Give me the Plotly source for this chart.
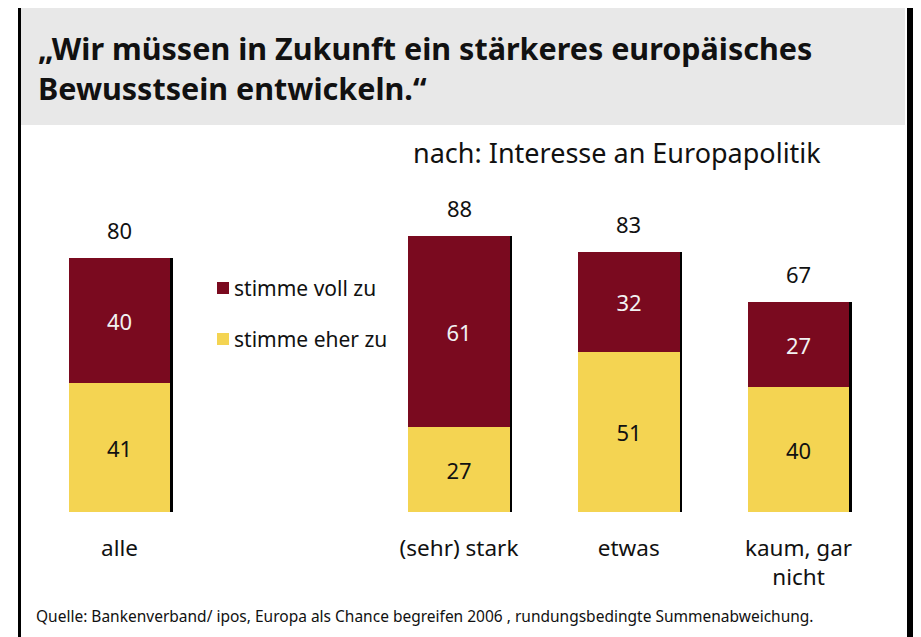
import plotly.graph_objects as go

# Seite hat 8px Rand, Figur daher etwas kleiner
RAND = 8
W, H = 921 - RAND, 637 - RAND

# Daten
kategorien = ["alle", "(sehr) stark", "etwas", "kaum, gar<br>nicht"]
positionen = [0, 2, 3, 4]
stimme_eher_zu = [41, 27, 51, 40]
stimme_voll_zu = [40, 61, 32, 27]
gesamt = [80, 88, 83, 67]

ROT = "#7a0a1f"
GELB = "#f4d452"
FONT = "Noto Sans"


def px(x):
    return (x - RAND) / W


def py(y):
    return 1 - (y - RAND) / H


summen = [a + b for a, b in zip(stimme_eher_zu, stimme_voll_zu)]

fig = go.Figure()

# Schatten hinter den Balken
fig.add_trace(go.Bar(
    x=[p + 0.013 for p in positionen], y=[s + 0.6 for s in summen], base=-0.6,
    width=0.6, marker=dict(color="black", line=dict(width=0)),
    hoverinfo="skip", showlegend=False,
))
fig.add_trace(go.Bar(
    x=positionen, y=stimme_eher_zu, width=0.6, name="stimme eher zu",
    marker=dict(color=GELB, line=dict(width=0)),
    text=stimme_eher_zu, textposition="inside", insidetextanchor="middle",
    textangle=0, textfont=dict(size=22, color="#111111", family=FONT),
    showlegend=False,
))
fig.add_trace(go.Bar(
    x=positionen, y=stimme_voll_zu, base=stimme_eher_zu, width=0.6, name="stimme voll zu",
    marker=dict(color=ROT, line=dict(width=0)),
    text=stimme_voll_zu, textposition="inside", insidetextanchor="middle",
    textangle=0, textfont=dict(size=22, color="#f2f2f2", family=FONT),
    showlegend=False,
))

# Gesamtwerte ueber den Balken
for p, s, g in zip(positionen, summen, gesamt):
    fig.add_annotation(x=p, y=s, text=str(g), showarrow=False, yanchor="bottom",
                       yshift=11, font=dict(size=22, color="#111111", family=FONT))

# Rahmen und Titelband (rechter Rand muss sichtbar bleiben)
fig.add_shape(type="rect", xref="paper", yref="paper", x0=px(21), x1=px(905), y0=py(125), y1=py(8),
              fillcolor="#e8e8e8", line=dict(width=0), layer="below")
fig.add_shape(type="rect", xref="paper", yref="paper", x0=px(18), x1=px(21), y0=-0.05, y1=1,
              fillcolor="black", line=dict(width=0))
fig.add_shape(type="rect", xref="paper", yref="paper", x0=px(907), x1=px(913), y0=-0.05, y1=1,
              fillcolor="black", line=dict(width=0))

fig.add_annotation(xref="paper", yref="paper", x=px(36), y=py(68), xanchor="left", yanchor="middle",
                   align="left", showarrow=False,
                   text="<b>„Wir müssen in Zukunft ein stärkeres europäisches<br>Bewusstsein entwickeln.“</b>",
                   font=dict(size=30.5, color="#111111", family=FONT))
fig.add_annotation(xref="paper", yref="paper", x=px(411), y=py(152), xanchor="left", yanchor="middle",
                   showarrow=False, text="nach: Interesse an Europapolitik",
                   font=dict(size=27, color="#111111", family=FONT))
fig.add_annotation(xref="paper", yref="paper", x=px(34), y=py(616), xanchor="left", yanchor="middle",
                   showarrow=False,
                   text="Quelle: Bankenverband/ ipos, Europa als Chance begreifen 2006 , rundungsbedingte Summenabweichung.",
                   font=dict(size=15.5, color="#111111", family=FONT))

# Legende
for farbe, name, y in [(ROT, "stimme voll zu", 288), (GELB, "stimme eher zu", 339)]:
    fig.add_shape(type="rect", xref="paper", yref="paper", x0=px(217), x1=px(229), y0=py(y + 6), y1=py(y - 6),
                  fillcolor=farbe, line=dict(width=0))
    fig.add_annotation(xref="paper", yref="paper", x=px(232), y=py(y), xanchor="left", yanchor="middle",
                       showarrow=False, text=name, font=dict(size=21, color="#111111", family=FONT))

fig.update_layout(
    width=W, height=H,
    margin=dict(l=0, r=0, t=0, b=0),
    paper_bgcolor="white", plot_bgcolor="white",
    barmode="overlay", bargap=0,
    showlegend=False,
    font=dict(family=FONT, color="#111111"),
    uniformtext=dict(minsize=10, mode="show"),
)
fig.update_xaxes(domain=[0, 1], range=[(RAND - 119.5) / 169.75, (921 - 119.5) / 169.75],
                 tickvals=positionen, ticktext=kategorien,
                 showgrid=False, zeroline=False, showline=False, ticks="",
                 ticklabelstandoff=20, tickfont=dict(size=22.5, color="#111111", family=FONT))
fig.update_yaxes(domain=[py(512), py(130)], range=[0, 121.85], showgrid=False, zeroline=False,
                 showline=False, showticklabels=False, ticks="")

fig.write_html("out.html")
